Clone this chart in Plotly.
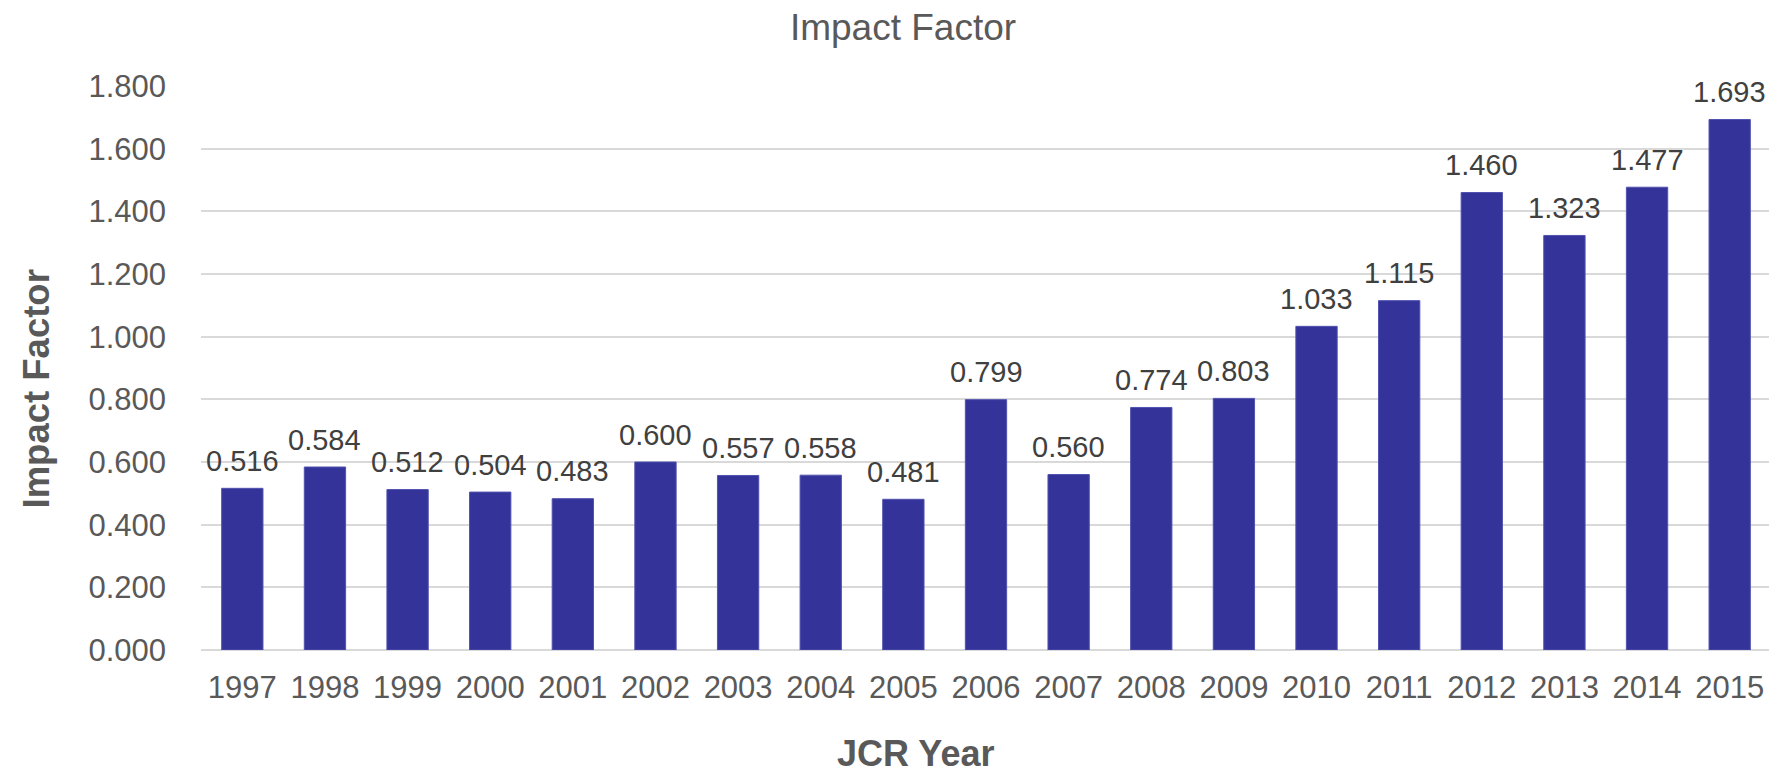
import plotly.graph_objects as go

years = ["1997", "1998", "1999", "2000", "2001", "2002", "2003", "2004", "2005", "2006",
         "2007", "2008", "2009", "2010", "2011", "2012", "2013", "2014", "2015"]
impact = [0.516, 0.584, 0.512, 0.504, 0.483, 0.600, 0.557, 0.558, 0.481, 0.799,
          0.560, 0.774, 0.803, 1.033, 1.115, 1.460, 1.323, 1.477, 1.693]
y_ticks = [0.0, 0.2, 0.4, 0.6, 0.8, 1.0, 1.2, 1.4, 1.6, 1.8]

FONT = "Arial, 'Liberation Sans', sans-serif"
W, H = 1777, 771
L, R, T, B = 193, 14, 78, 129
PW, PH = W - L - R, H - T - B

def px_x(x):
    return (x - L) / PW

def px_y(y):
    return 1 - (y - T) / PH

fig = go.Figure()
fig.add_trace(go.Bar(
    x=years, y=impact,
    marker=dict(color="#333399", line=dict(color="#5252b0", width=1)),
    textposition="none", hoverinfo="x+y",
))

annotations = [
    dict(x=i, y=v, xref="x", yref="y", text=f"{v:.3f}", showarrow=False,
         xanchor="center", yanchor="middle", yshift=27.5,
         font=dict(family=FONT, size=29, color="#404040"))
    for i, v in enumerate(impact)
]
annotations += [
    dict(text="<b>JCR Year</b>", xref="paper", yref="paper",
         x=px_x(907.5), y=px_y(745), xanchor="center", yanchor="middle",
         showarrow=False, font=dict(family=FONT, size=36, color="#595959")),
    dict(text="<b>Impact Factor</b>", xref="paper", yref="paper",
         x=px_x(27.5), y=px_y(381), xanchor="center", yanchor="middle",
         textangle=-90, showarrow=False,
         font=dict(family=FONT, size=36.5, color="#595959")),
]

fig.update_layout(
    width=W, height=H, autosize=False,
    margin=dict(l=L, r=R, t=T, b=B),
    paper_bgcolor="white", plot_bgcolor="white",
    bargap=0.5, showlegend=False,
    font=dict(family=FONT, color="#595959"),
    title=dict(text="Impact Factor", x=895 / W, xanchor="center", xref="container",
               y=1 - 19 / H, yanchor="middle", yref="container",
               font=dict(family=FONT, size=37, color="#595959")),
    xaxis=dict(type="category", range=[-0.5, len(years) - 0.5],
               showgrid=False, showline=False, zeroline=False,
               tickfont=dict(family=FONT, size=31, color="#595959"),
               ticks="", ticklabelstandoff=16),
    yaxis=dict(range=[0, 1.8], tickvals=y_ticks, tickformat=".3f",
               showgrid=True, gridcolor="#d9d9d9", gridwidth=1.5,
               zeroline=True, zerolinecolor="#d9d9d9", zerolinewidth=1.5,
               showline=False, ticks="",
               tickfont=dict(family=FONT, size=31, color="#595959"),
               ticklabelstandoff=34),
    annotations=annotations,
)

fig.write_html("out.html")
